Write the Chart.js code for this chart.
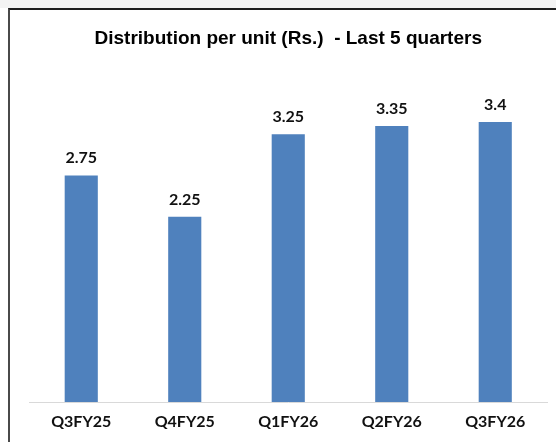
<!DOCTYPE html>
<html>
<head>
<meta charset="utf-8">
<script src="https://cdn.jsdelivr.net/npm/chart.js@4/dist/chart.umd.min.js"></script>
<style>
html,body{margin:0;padding:0;background:#fff;overflow:hidden;width:556px;height:442px;}
#band{position:absolute;left:0;top:0;width:556px;height:8px;background:#f3f3f3;}
#frame{position:absolute;left:8px;top:8px;width:620px;height:520px;border-left:2px solid #4a4a4a;border-top:2px solid #1e1e1e;box-sizing:border-box;}
#c{position:absolute;left:0;top:0;}
</style>
</head>
<body>
<div id="band"></div>
<div id="frame"></div>
<canvas id="c" width="556" height="442"></canvas>
<script>
const categories = ["Q3FY25", "Q4FY25", "Q1FY26", "Q2FY26", "Q3FY26"];
const distribution = [2.75, 2.25, 3.25, 3.35, 3.4];
const titleText = "Distribution per unit (Rs.)  - Last 5 quarters";

const valueLabels = {
  id: 'valueLabels',
  afterDatasetsDraw(chart) {
    const ctx = chart.ctx;
    const meta = chart.getDatasetMeta(0);
    ctx.save();
    ctx.font = "bold 16px Lato, 'Open Sans', sans-serif";
    ctx.fillStyle = '#111';
    ctx.textAlign = 'center';
    ctx.textBaseline = 'alphabetic';
    meta.data.forEach((bar, i) => {
      ctx.fillText(String(chart.data.datasets[0].data[i]), bar.x, bar.y - 12);
    });
    ctx.restore();
  }
};

new Chart(document.getElementById('c'), {
  type: 'bar',
  data: {
    labels: categories,
    datasets: [{
      data: distribution,
      backgroundColor: '#4F81BD',
      borderWidth: 0,
      barPercentage: 0.32,
      categoryPercentage: 1
    }]
  },
  options: {
    responsive: false,
    animation: false,
    devicePixelRatio: 1,
    layout: { padding: { left: 29.5, right: 9, top: 0, bottom: 0.8 } },
    plugins: {
      legend: { display: false },
      tooltip: { enabled: false },
      title: {
        display: true,
        text: titleText,
        color: '#000',
        font: { family: "'Liberation Sans', Arial, sans-serif", size: 19, weight: 'bold' },
        padding: { top: 27, bottom: 22.7 }
      }
    },
    scales: {
      x: {
        grid: { display: false, drawTicks: false },
        border: { display: true, color: '#d9d9d9', width: 1 },
        ticks: { color: '#111', font: { family: "Lato, 'Open Sans', sans-serif", size: 16, weight: 'bold' }, padding: 10 }
      },
      y: { display: false, min: 0, max: 4 }
    }
  },
  plugins: [valueLabels]
});
</script>
</body>
</html>
